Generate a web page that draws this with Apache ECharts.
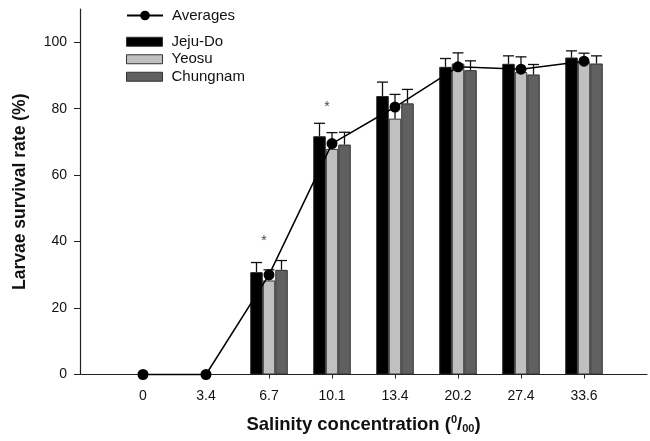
<!DOCTYPE html>
<html>
<head>
<meta charset="utf-8">
<script src="https://cdn.jsdelivr.net/npm/echarts@6/dist/echarts.min.js"></script>
<style>
html, body { margin: 0; padding: 0; background: #fff; }
#main { width: 650px; height: 441px; }
</style>
</head>
<body>
<div id="main"></div>
<script>
// salinity levels (per mille)
var salinity = ['0', '3.4', '6.7', '10.1', '13.4', '20.2', '27.4', '33.6'];
var jeju = [0, 0, 30.8, 71.7, 83.8, 92.6, 93.5, 95.4];
var jejuErr = [0, 0, 2.9, 3.9, 4.2, 2.5, 2.4, 2.0];
var yeosu = [0, 0, 28.3, 67.9, 77.0, 93.6, 91.0, 94.0];
var yeosuErr = [0, 0, 3.2, 4.9, 7.3, 3.2, 4.6, 2.7];
var chungnam = [0, 0, 31.5, 69.2, 81.6, 91.6, 90.3, 93.6];
var chungnamErr = [0, 0, 2.8, 3.7, 4.2, 2.8, 3.0, 2.3];
var averages = [0, 0, 30.0, 69.5, 80.5, 92.6, 91.9, 94.3];
var starCats = ['6.7', '10.1'];
var starVals = [41.2, 81.6];
var yTicks = [0, 20, 40, 60, 80, 100];

var FONT = 'Liberation Sans, Arial, sans-serif';
var barW = 12.5;

function pos(i) { return i + 1; }  // category index -> x position

function barData(arr) {
	// zero survival: nothing to draw
	return arr.map(function (v, i) { return [pos(i), v === 0 ? null : v]; });
}
function lineData(arr) {
	return arr.map(function (v, i) { return [pos(i), v]; });
}
function errData(vals, errs) {
	return vals.map(function (v, i) { return [pos(i), v, errs[i]]; });
}

function errSeries(name, vals, errs, offset) {
	return {
		name: name + ' err',
		type: 'custom',
		z: 3,
		data: errData(vals, errs),
		renderItem: function (params, api) {
			var x = api.value(0), v = api.value(1), e = api.value(2);
			if (!e) return null;
			var p1 = api.coord([x, v]);
			var p2 = api.coord([x, v + e]);
			var cx = p1[0] + offset;
			var st = { stroke: '#111', lineWidth: 1.3 };
			return {
				type: 'group',
				children: [
					{ type: 'line', shape: { x1: cx, y1: p1[1], x2: cx, y2: p2[1] }, style: st },
					{ type: 'line', shape: { x1: cx - 5.5, y1: p2[1], x2: cx + 5.5, y2: p2[1] }, style: st }
				]
			};
		}
	};
}

var myChart = echarts.init(document.getElementById('main'));
var option = {
	animation: false,
	textStyle: { fontFamily: FONT },
	grid: { left: 80, right: 3, top: 9, bottom: 66.5 },
	legend: [{
		data: ['Averages'],
		left: 126, top: 8, padding: 0,
		itemWidth: 36, itemHeight: 12,
		textStyle: { fontSize: 15, color: '#111', padding: [0, 0, 0, 4], fontFamily: FONT }
	}, {
		data: ['Jeju-Do', 'Yeosu', 'Chungnam'],
		orient: 'vertical',
		left: 126, top: 34, padding: 0,
		icon: 'rect',
		itemWidth: 36, itemHeight: 9, itemGap: 2,
		itemStyle: { borderColor: '#333', borderWidth: 1 },
		textStyle: { fontSize: 15, color: '#111', lineHeight: 15.5, padding: [0, 0, 0, 4], fontFamily: FONT }
	}],
	xAxis: {
		type: 'value',
		min: 0, max: 9, interval: 1,
		splitLine: { show: false },
		axisLine: { lineStyle: { color: '#222', width: 1.2 } },
		axisTick: { show: true, length: 4, customValues: [1, 2, 3, 4, 5, 6, 7, 8], lineStyle: { color: '#222' } },
		axisLabel: {
			customValues: [1, 2, 3, 4, 5, 6, 7, 8],
			fontSize: 14, color: '#111', margin: 15,
			formatter: function (v) { return salinity[v - 1] || ''; }
		},
		name: 'Salinity concentration ({sup|0}/{sub|00})',
		nameLocation: 'middle',
		nameGap: 40,
		nameTextStyle: {
			fontSize: 18.5, fontWeight: 'bold', color: '#111', fontFamily: FONT,
			rich: {
				sup: { fontSize: 11, fontWeight: 'bold', verticalAlign: 'top', padding: [0, 0, 9, 0], fontFamily: FONT },
				sub: { fontSize: 11, fontWeight: 'bold', verticalAlign: 'bottom', padding: [7, 0, 0, 0], fontFamily: FONT }
			}
		}
	},
	yAxis: {
		type: 'value',
		min: 0, max: 110, interval: 20,
		splitLine: { show: false },
		axisLine: { show: true, lineStyle: { color: '#222', width: 1.2 } },
		axisTick: { show: true, length: 6, customValues: yTicks, lineStyle: { color: '#222' } },
		axisLabel: { customValues: yTicks, fontSize: 14, color: '#111', margin: 13 },
		name: 'Larvae survival rate (%)',
		nameLocation: 'middle',
		nameGap: 51,
		nameTextStyle: { fontSize: 17.5, fontWeight: 'bold', color: '#111', fontFamily: FONT }
	},
	series: [{
		name: 'Jeju-Do', type: 'bar', barWidth: barW, barGap: '0%',
		itemStyle: { color: '#000', borderColor: '#222', borderWidth: 1 },
		data: barData(jeju)
	}, {
		name: 'Yeosu', type: 'bar', barWidth: barW, barGap: '0%',
		itemStyle: { color: '#c0c0c0', borderColor: '#333', borderWidth: 1 },
		data: barData(yeosu)
	}, {
		name: 'Chungnam', type: 'bar', barWidth: barW, barGap: '0%',
		itemStyle: { color: '#606060', borderColor: '#333', borderWidth: 1 },
		data: barData(chungnam)
	},
	errSeries('Jeju-Do', jeju, jejuErr, -barW),
	errSeries('Yeosu', yeosu, yeosuErr, 0),
	errSeries('Chungnam', chungnam, chungnamErr, barW),
	{
		name: 'Averages', type: 'line', z: 5,
		symbol: 'circle', symbolSize: 11,
		clip: false,
		itemStyle: { color: '#000' },
		lineStyle: { color: '#000', width: 1.5 },
		data: lineData(averages)
	}, {
		name: 'stars', type: 'scatter', symbolSize: 0, z: 6,
		label: { show: true, formatter: '*', fontSize: 14, color: '#111', offset: [-5, 4] },
		data: starCats.map(function (c, i) { return [pos(salinity.indexOf(c)), starVals[i]]; })
	}]
};
myChart.setOption(option);
</script>
</body>
</html>
